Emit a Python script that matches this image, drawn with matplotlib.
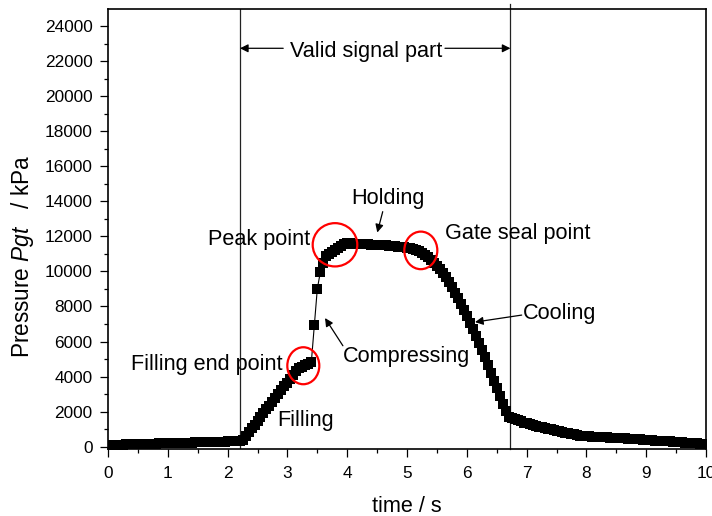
import numpy as np
import matplotlib
matplotlib.use("Agg")
import matplotlib.pyplot as plt
from matplotlib.patches import Ellipse

plt.rcParams['font.family'] = ['Liberation Sans', 'DejaVu Sans']
plt.rcParams['mathtext.fontset'] = 'custom'
plt.rcParams['mathtext.rm'] = 'Liberation Sans'
plt.rcParams['mathtext.it'] = 'Liberation Sans:italic'

# ---- data (time sampled every 0.05 s, pressure in kPa) ----
time_s = np.round(np.arange(201) * 0.05, 2)
pressure_kpa = [
    100, 105, 110, 115, 120, 125, 130, 135, 140, 145,
    150, 155, 160, 165, 170, 175, 180, 185, 190, 195,
    200, 205, 210, 215, 220, 225, 230, 235, 240, 245,
    250, 255, 260, 265, 270, 275, 280, 285, 290, 295,
    300, 305, 310, 315, 320, 400, 620, 840, 1040, 1260,
    1480, 1700, 1910, 2130, 2350, 2570, 2780, 3000, 3220, 3440,
    3660, 3880, 4100, 4330, 4480, 4570, 4640, 4710, 4820, 6940,
    9000, 9950, 10470, 10880, 11000, 11110, 11220, 11330, 11440, 11550,
    11620, 11600, 11590, 11580, 11570, 11560, 11550, 11540, 11530, 11520,
    11510, 11500, 11490, 11480, 11470, 11450, 11440, 11420, 11400, 11380,
    11360, 11340, 11300, 11240, 11160, 11060, 10940, 10800, 10650, 10490,
    10320, 10140, 9930, 9700, 9420, 9110, 8790, 8460, 8120, 7780,
    7430, 7070, 6690, 6300, 5900, 5500, 5090, 4680, 4200, 3760,
    3330, 2900, 2460, 2030, 1720, 1640, 1570, 1500, 1440, 1380,
    1330, 1280, 1230, 1190, 1150, 1110, 1070, 1030, 990, 950,
    910, 880, 850, 810, 780, 740, 710, 670, 640, 610,
    600, 590, 580, 570, 560, 550, 540, 530, 520, 510,
    500, 490, 480, 470, 460, 450, 440, 430, 420, 410,
    390, 375, 360, 350, 340, 330, 320, 310, 300, 290,
    280, 270, 255, 240, 225, 210, 200, 190, 180, 170,
    160,
]
valid_start, valid_end = 2.207, 6.73

xticks = list(range(0, 11))
yticks = list(range(0, 24001, 2000))

# annotation texts: (text, x, y baseline)
labels = [
    ("Peak point", 1.677, 11520),
    ("Filling end point", 0.385, 4390),
    ("Filling", 2.838, 1160),
    ("Compressing", 3.935, 4860),
    ("Holding", 4.075, 13850),
    ("Gate seal point", 5.635, 11840),
    ("Cooling", 6.945, 7280),
]
# arrows: (tail x, tail y, head x, head y)
arrows = [
    (3.928, 5760, 3.629, 7340),
    (4.594, 13410, 4.503, 12220),
    (6.918, 7510, 6.137, 7110),
]
# red circles: (center t, center P, width s, height kPa)
circles = [
    (3.266, 4620, 0.535, 2110),
    (3.796, 11520, 0.746, 2470),
    (5.231, 11200, 0.552, 2144),
]

fig = plt.figure(figsize=(7.12, 5.16), dpi=100)
ax = fig.add_axes([108 / 712, (516 - 449) / 516, 598 / 712, 440.5 / 516])

ax.plot(time_s, pressure_kpa, '-s', color='black', lw=0.8,
        markersize=7.0, markeredgewidth=0, zorder=3)

ax.axvline(valid_start, color='#222222', lw=0.9, zorder=2)
ax.axvline(valid_end, color='#222222', lw=0.9, ymax=1.01, clip_on=False, zorder=2)

ax.set_xlim(0, 10)
ax.set_ylim(-130, 25000)
ax.set_xticks(xticks)
ax.set_xticks(np.arange(0.5, 10, 1.0), minor=True)
ax.set_yticks(yticks)
ax.set_yticks(range(1000, 25000, 2000), minor=True)

for s in ax.spines.values():
    s.set_linewidth(1.2)
ax.tick_params(which='major', direction='out', length=5.5, width=0.9,
               labelsize=12.4, top=False, right=False)
ax.tick_params(which='minor', direction='out', length=3, width=0.9,
               top=False, right=False)
ax.tick_params(axis='x', which='major', pad=7)
ax.tick_params(axis='y', which='major', pad=5.5)

fs = 15.6
ax.text(-0.1438, 0.437, r'Pressure $\mathit{Pgt}$   / kPa', transform=ax.transAxes,
        rotation=90, ha='center', va='center', fontsize=16.3)
ax.text(0.5, -0.107, 'time / s', transform=ax.transAxes,
        ha='center', va='top', fontsize=fs)

# Valid signal part
ax.text(3.043, 22250, 'Valid signal part', fontsize=fs, ha='left', va='baseline')
ax.annotate('', xy=(valid_start, 22730), xytext=(2.93, 22730),
            arrowprops=dict(arrowstyle='-|>', color='black', lw=0.9,
                            mutation_scale=12, shrinkA=0, shrinkB=0))
ax.annotate('', xy=(valid_end, 22730), xytext=(5.635, 22730),
            arrowprops=dict(arrowstyle='-|>', color='black', lw=0.9,
                            mutation_scale=12, shrinkA=0, shrinkB=0))

for txt, x, y in labels:
    ax.text(x, y, txt, fontsize=fs, ha='left', va='baseline', zorder=5)

for x0, y0, x1, y1 in arrows:
    ax.annotate('', xy=(x1, y1), xytext=(x0, y0),
                arrowprops=dict(arrowstyle='-|>', color='black', lw=0.9,
                                mutation_scale=12, shrinkA=0, shrinkB=0))

for cx, cy, w, h in circles:
    ax.add_patch(Ellipse((cx, cy), w, h, fill=False, edgecolor='red',
                         lw=1.6, zorder=4))

fig.savefig('out.png', dpi=100)
